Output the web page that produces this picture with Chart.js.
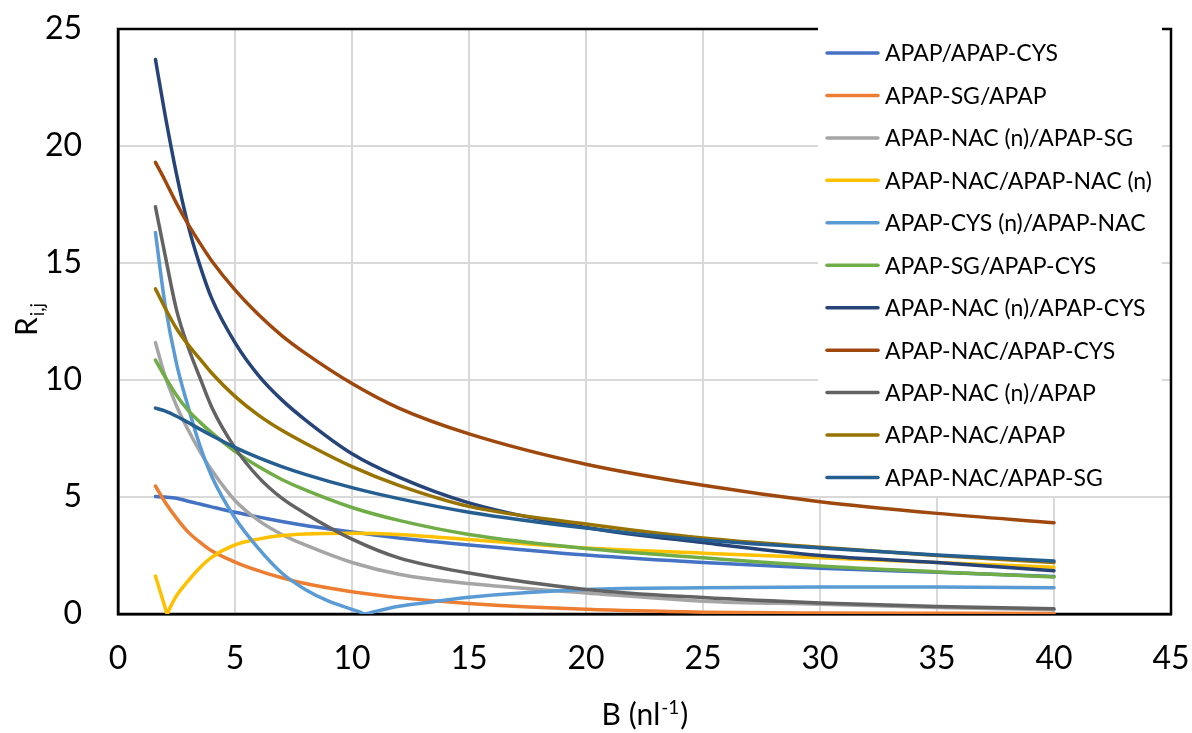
<!DOCTYPE html>
<html>
<head>
<meta charset="utf-8">
<title>R i,j vs B</title>
<script src="https://cdn.jsdelivr.net/npm/chart.js@4/dist/chart.umd.min.js"></script>
<style>
  html, body { margin: 0; padding: 0; background: #fff; }
  canvas { display: block; }
</style>
</head>
<body>
<canvas id="ratioChart" width="1192" height="733"></canvas>
<script>
// B (nl^-1) values
const bValues = [1.6, 2, 2.5, 3, 3.5, 4, 5, 6, 7, 8, 10, 12, 15, 20, 25, 30, 35, 40];
// the two curves that touch zero get a few more points round the dip
const bNacNacN = [1.6, 1.85, 2.0, 2.1, 2.2, 2.3, 2.5, 3, 3.5, 4, 5, 6, 7, 8, 10, 12, 15, 20, 25, 30, 35, 40];
const bCysNNac = [1.6, 2, 2.5, 3, 3.5, 4, 5, 6, 7, 8, 9, 10, 10.35, 10.55, 10.75, 12, 13.3, 15, 20, 25, 30, 35, 40];

// R i,j
const apapCys    = [5.02, 5.0, 4.95, 4.82, 4.7, 4.58, 4.35, 4.15, 3.95, 3.78, 3.5, 3.25, 2.95, 2.52, 2.2, 1.96, 1.78, 1.6];
const sgApap     = [5.47, 4.8, 4.1, 3.5, 3.07, 2.7, 2.22, 1.85, 1.55, 1.3, 0.95, 0.7, 0.45, 0.2, 0.08, 0.04, 0.03, 0.02];
const nacNSg     = [11.6, 10.2, 8.9, 7.86, 6.95, 6.15, 4.85, 4.0, 3.4, 2.95, 2.2, 1.7, 1.3, 0.9, 0.55, 0.42, 0.28, 0.18];
const nacNacN    = [1.62, 0.81, 0.32, 0, 0.22, 0.42, 0.78, 1.42, 1.98, 2.42, 2.95, 3.2, 3.35, 3.42, 3.45, 3.4, 3.18, 2.82, 2.6, 2.4, 2.2, 2.0];
const cysNNac    = [16.3, 13.3, 10.7, 8.85, 7.2, 5.9, 4.1, 2.8, 1.75, 1.05, 0.55, 0.2, 0.08, 0, 0.05, 0.33, 0.5, 0.72, 1.05, 1.12, 1.15, 1.15, 1.12];
const sgCys      = [10.85, 10.15, 9.35, 8.7, 8.2, 7.75, 6.95, 6.3, 5.75, 5.3, 4.55, 4.0, 3.4, 2.8, 2.4, 2.05, 1.8, 1.58];
const nacNCys    = [23.7, 21.4, 18.8, 16.6, 14.9, 13.5, 11.6, 10.2, 9.15, 8.3, 6.85, 5.85, 4.75, 3.7, 3.05, 2.5, 2.2, 1.85];
const nacCys     = [19.3, 18.55, 17.55, 16.65, 15.85, 15.1, 13.85, 12.8, 11.9, 11.15, 9.85, 8.8, 7.7, 6.4, 5.5, 4.8, 4.3, 3.9];
const nacNApap   = [17.4, 15.4, 13.0, 11.4, 10.1, 8.85, 7.1, 5.85, 4.95, 4.3, 3.2, 2.4, 1.75, 1.05, 0.7, 0.47, 0.32, 0.22];
const nacApap    = [13.9, 13.1, 12.2, 11.5, 10.9, 10.3, 9.3, 8.5, 7.85, 7.3, 6.3, 5.5, 4.6, 3.85, 3.25, 2.85, 2.5, 2.2];
const nacSg      = [8.8, 8.68, 8.45, 8.18, 7.9, 7.63, 7.12, 6.68, 6.3, 5.97, 5.4, 4.93, 4.35, 3.67, 3.16, 2.82, 2.52, 2.27];

const seriesNames = [
    "APAP/APAP-CYS",
    "APAP-SG/APAP",
    "APAP-NAC (n)/APAP-SG",
    "APAP-NAC/APAP-NAC (n)",
    "APAP-CYS (n)/APAP-NAC",
    "APAP-SG/APAP-CYS",
    "APAP-NAC (n)/APAP-CYS",
    "APAP-NAC/APAP-CYS",
    "APAP-NAC (n)/APAP",
    "APAP-NAC/APAP",
    "APAP-NAC/APAP-SG",
];
const seriesX = [bValues, bValues, bValues, bNacNacN, bCysNNac, bValues, bValues, bValues, bValues, bValues, bValues];
const seriesY = [apapCys, sgApap, nacNSg, nacNacN, cysNNac, sgCys, nacNCys, nacCys, nacNApap, nacApap, nacSg];
const seriesColors = ["#4472C4", "#ED7D31", "#A5A5A5", "#FFC000", "#5B9BD5", "#70AD47",
                      "#264478", "#9E480E", "#636363", "#997300", "#255E91"];

const xTicks = [0, 45, 5];   // min, max, step
const yTicks = [0, 25, 5];

const FONT = "Lato, 'Open Sans', sans-serif";

// frame round the plot, the legend box and the two axis titles
const extras = {
    id: "extras",
    beforeDatasetsDraw(chart) {
        const { ctx, chartArea: a } = chart;
        ctx.save();
        ctx.strokeStyle = "#000";
        ctx.lineWidth = 2.5;
        ctx.strokeRect(a.left, a.top, a.right - a.left, a.bottom - a.top);
        ctx.restore();
    },
    afterDatasetsDraw(chart) {
        const ctx = chart.ctx;
        ctx.save();
        ctx.fillStyle = "#fff";
        ctx.fillRect(818, 27, 344, 469);
        ctx.font = "23px " + FONT;
        ctx.textBaseline = "middle";
        ctx.textAlign = "left";
        chart.data.datasets.forEach((ds, i) => {
            const y = 53 + i * 42.45;
            ctx.strokeStyle = ds.borderColor;
            ctx.lineWidth = 3.5;
            ctx.lineCap = "round";
            ctx.beginPath();
            ctx.moveTo(827, y);
            ctx.lineTo(878, y);
            ctx.stroke();
            ctx.fillStyle = "#000";
            ctx.fillText(ds.label, 885, y + 1);
        });
        ctx.restore();
    },
    afterDraw(chart) {
        const ctx = chart.ctx;
        ctx.save();
        ctx.fillStyle = "#000";
        ctx.textBaseline = "alphabetic";
        ctx.textAlign = "left";

        // x title: B (nl^-1)
        const big = "30px " + FONT, small = "19px " + FONT;
        ctx.font = big;
        const w1 = ctx.measureText("B (nl").width;
        const w3 = ctx.measureText(")").width;
        ctx.font = small;
        const w2 = ctx.measureText("-1").width;
        let x = 644 - (w1 + w2 + w3) / 2;
        const base = 725;
        ctx.font = big;
        ctx.fillText("B (nl", x, base);
        ctx.font = small;
        ctx.fillText("-1", x + w1 + 1, base - 11);
        ctx.font = big;
        ctx.fillText(")", x + w1 + w2 + 2, base);

        // y title: R with subscript i,j, turned to read upwards
        ctx.translate(37, 320);
        ctx.rotate(-Math.PI / 2);
        ctx.font = big;
        const r = ctx.measureText("R").width;
        ctx.font = small;
        const s = ctx.measureText("i,j").width;
        const start = -(r + s) / 2;
        ctx.font = big;
        ctx.fillText("R", start, 0);
        ctx.font = small;
        ctx.fillText("i,j", start + r + 1, 7);
        ctx.restore();
    },
};

new Chart(document.getElementById("ratioChart"), {
    type: "line",
    data: {
        datasets: seriesNames.map((name, i) => ({
            label: name,
            data: seriesX[i].map((b, k) => ({ x: b, y: seriesY[i][k] })),
            borderColor: seriesColors[i],
            backgroundColor: seriesColors[i],
            borderWidth: 3.5,
            pointRadius: 0,
            fill: false,
            cubicInterpolationMode: "monotone",
            borderCapStyle: "round",
            order: seriesNames.length - i,
        })),
    },
    options: {
        responsive: false,
        animation: false,
        layout: { padding: { top: 29, right: 21, left: 0, bottom: 0 } },
        plugins: {
            legend: { display: false },
            tooltip: { enabled: false },
        },
        scales: {
            x: {
                type: "linear",
                min: xTicks[0],
                max: xTicks[1],
                afterFit: (scale) => {
                    scale.height = 119;
                    scale.paddingLeft = 0;
                    scale.paddingRight = 0;
                },
                ticks: { stepSize: xTicks[2], padding: 25, color: "#000", font: { family: FONT, size: 32 } },
                grid: { color: "#D9D9D9", lineWidth: 2, drawTicks: false },
                border: { color: "#000", width: 2.5 },
            },
            y: {
                min: yTicks[0],
                max: yTicks[1],
                afterFit: (scale) => {
                    scale.width = 118;
                    scale.paddingTop = 0;
                    scale.paddingBottom = 0;
                },
                ticks: { stepSize: yTicks[2], padding: 36, color: "#000", font: { family: FONT, size: 32 } },
                grid: { color: "#D9D9D9", lineWidth: 2, drawTicks: false },
                border: { color: "#000", width: 2.5 },
            },
        },
    },
    plugins: [extras],
});
</script>
</body>
</html>
